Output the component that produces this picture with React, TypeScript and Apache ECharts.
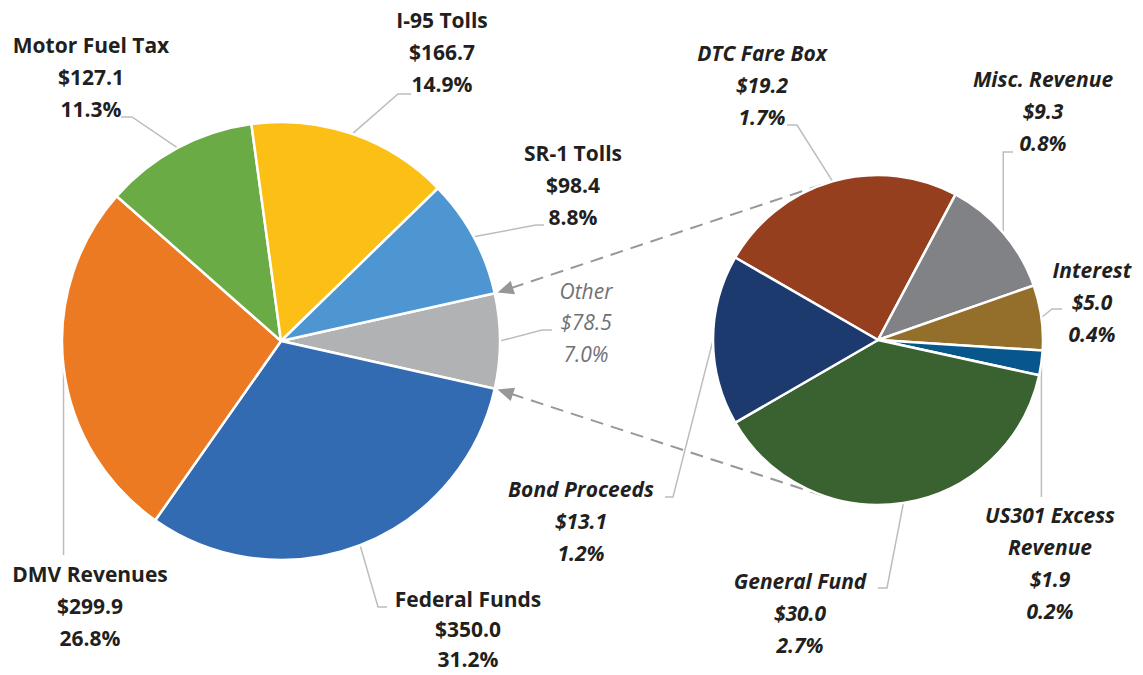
import React, { useEffect, useRef } from "react";
import * as echarts from "echarts";

// ---------- data ----------
const mainNames = ["Other", "Federal Funds", "DMV Revenues", "Motor Fuel Tax", "I-95 Tolls", "SR-1 Tolls"];
const mainValues = [78.5, 350.0, 299.9, 127.1, 166.7, 98.4];
const mainColors = ["#B1B2B4", "#336BB3", "#EC7A22", "#6AAB45", "#FBBF15", "#4E96D2"];

const otherNames = ["DTC Fare Box", "Misc. Revenue", "Interest", "US301 Excess\nRevenue", "General Fund", "Bond Proceeds"];
const otherValues = [19.2, 9.3, 5.0, 1.9, 30.0, 13.1];
const otherColors = ["#963F1F", "#808285", "#936F2B", "#07568C", "#3A6130", "#1D3A6E"];

// ---------- layout ----------
const W = 1143;
const H = 675;
const LEFT = { cx: 281, cy: 341, r: 219 };
const RIGHT = { cx: 878, cy: 340, r: 165 };
const RIGHT_START = 150;

type LabelSpec = { x: number; y: number; elbow?: number[]; end: number[]; vertical?: boolean; tight?: boolean };
const LABELS: Record<string, LabelSpec> = {
  "Motor Fuel Tax": { x: 91, y: 29, elbow: [132, 117], end: [121, 117] },
  "I-95 Tolls": { x: 442, y: 4, elbow: [398, 94], end: [411, 94] },
  "SR-1 Tolls": { x: 573, y: 137, elbow: [536, 225], end: [544, 225] },
  Other: { x: 586, y: 275, elbow: [542, 330], end: [552, 330] },
  "Federal Funds": { x: 468, y: 584, elbow: [378, 607], end: [387, 607], tight: true },
  "DMV Revenues": { x: 90, y: 558, end: [0, 555], vertical: true },
  "DTC Fare Box": { x: 762, y: 37, elbow: [797, 125], end: [787, 125] },
  "Misc. Revenue": { x: 1043, y: 63, elbow: [0, 152], end: [1013, 152], vertical: true },
  Interest: { x: 1092, y: 254, elbow: [1052, 309], end: [1062, 309] },
  "US301 Excess\nRevenue": { x: 1050, y: 499, end: [0, 497], vertical: true },
  "General Fund": { x: 800, y: 565, elbow: [887, 588], end: [878, 588] },
  "Bond Proceeds": { x: 581, y: 473, elbow: [673, 497], end: [665, 497] },
};

const FONT = "'Open Sans', 'Noto Sans', sans-serif";
const TEXT = "#231F20";

const total = mainValues.reduce((a, b) => a + b, 0);
const otherIndex = mainNames.indexOf("Other");
const otherSweep = (mainValues[otherIndex] / total) * 360;
const LEFT_START = otherSweep / 2;

const rad = (d: number) => (d * Math.PI) / 180;
const pt = (c: { cx: number; cy: number }, ang: number, r: number) => [
  c.cx + r * Math.cos(rad(ang)),
  c.cy - r * Math.sin(rad(ang)),
];

function midAngle(values: number[], start: number, idx: number) {
  const sum = values.reduce((a, b) => a + b, 0);
  let acc = 0;
  for (let i = 0; i < idx; i++) acc += values[i];
  return start - ((acc + values[idx] / 2) / sum) * 360;
}

function makeRich(italic: boolean) {
  const base = {
    fontFamily: FONT,
    fontSize: 21,
    fontWeight: 700,
    color: TEXT,
    lineHeight: 32,
    fontStyle: italic ? "italic" : "normal",
  };
  return {
    n: { ...base },
    v: { ...base },
    t: { ...base, lineHeight: 30 },
    o: { ...base, fontSize: 21, fontWeight: 400, fontStyle: "italic", color: "#707174", lineHeight: 31.5 },
  };
}

function formatLabel(name: string, value: number) {
  const pct = ((value / total) * 100).toFixed(1) + "%";
  const amt = "$" + value.toFixed(1);
  if (name === "Other") return `{o|${name}}\n{o|${amt}}\n{o|${pct}}`;
  const spec = LABELS[name];
  const k = spec && spec.tight ? "t" : "n";
  const kv = spec && spec.tight ? "t" : "v";
  const nameLines = name.split("\n").map((s) => `{${k}|${s}}`).join("\n");
  return `${nameLines}\n{${kv}|${amt}}\n{${kv}|${pct}}`;
}

function makeLayout(names: string[], values: number[], c: typeof LEFT, start: number) {
  return (params: any) => {
    const name = names[params.dataIndex];
    const spec = LABELS[name];
    if (!spec) return {};
    let p0: number[];
    if (params.labelLinePoints && params.labelLinePoints[0]) p0 = params.labelLinePoints[0];
    else p0 = pt(c, midAngle(values, start, params.dataIndex), c.r);
    let line: number[][];
    if (spec.vertical) {
      line = [p0, [p0[0], spec.end[1]]];
      if (spec.elbow) line = [p0, [p0[0], spec.elbow[1]], spec.end];
    } else {
      line = [p0, spec.elbow as number[], spec.end];
    }
    return { x: spec.x, y: spec.y, align: "center", verticalAlign: "top", labelLinePoints: line };
  };
}

function tangentPoint(P: number[], c: typeof RIGHT, upper: boolean) {
  const dx = P[0] - c.cx;
  const dy = -(P[1] - c.cy);
  const d = Math.sqrt(dx * dx + dy * dy);
  const phi = (Math.atan2(dy, dx) * 180) / Math.PI;
  const alpha = (Math.acos(c.r / d) * 180) / Math.PI;
  return pt(c, upper ? phi - alpha : phi + alpha, c.r);
}

function connector(ang: number, upper: boolean) {
  const tip = pt(LEFT, ang, LEFT.r + 3);
  const T = tangentPoint(tip, RIGHT, upper);
  const ux = T[0] - tip[0];
  const uy = T[1] - tip[1];
  const len = Math.sqrt(ux * ux + uy * uy);
  const u = [ux / len, uy / len];
  const n = [-u[1], u[0]];
  const aL = 16;
  const aW = 7;
  const B = [tip[0] + u[0] * aL, tip[1] + u[1] * aL];
  return [
    {
      type: "line",
      z: 1,
      silent: true,
      shape: { x1: B[0] - u[0] * 2, y1: B[1] - u[1] * 2, x2: T[0], y2: T[1] },
      style: { stroke: "#979797", lineWidth: 2, lineDash: [13, 8] },
    },
    {
      type: "polygon",
      z: 1,
      silent: true,
      shape: {
        points: [tip, [B[0] + n[0] * aW, B[1] + n[1] * aW], [B[0] - n[0] * aW, B[1] - n[1] * aW]],
      },
      style: { fill: "#979797" },
    },
  ];
}

export default function App() {
  const ref = useRef<HTMLDivElement>(null);
  useEffect(() => {
    if (!ref.current) return;
    document.body.style.margin = "0";
    const chart = echarts.init(ref.current, undefined, { renderer: "svg" });
    const labelLine = { show: true, length: 10, length2: 10, lineStyle: { color: "#BDBDBD", width: 1.5 } };
    const option: any = {
      animation: false,
      backgroundColor: "#ffffff",
      graphic: [...connector(LEFT_START, true), ...connector(LEFT_START - otherSweep, false)],
      series: [
        {
          type: "pie",
          center: [LEFT.cx, LEFT.cy],
          radius: LEFT.r,
          startAngle: LEFT_START,
          clockwise: true,
          avoidLabelOverlap: false,
          minShowLabelAngle: 0,
          silent: true,
          z: 2,
          itemStyle: { borderColor: "#ffffff", borderWidth: 2.5 },
          label: {
            show: true,
            position: "outside",
            formatter: (p: any) => formatLabel(p.name, p.value),
            rich: makeRich(false),
          },
          labelLine,
          labelLayout: makeLayout(mainNames, mainValues, LEFT, LEFT_START),
          emphasis: { disabled: true },
          data: mainNames.map((n, i) => ({ name: n, value: mainValues[i], itemStyle: { color: mainColors[i] } })),
        },
        {
          type: "pie",
          center: [RIGHT.cx, RIGHT.cy],
          radius: RIGHT.r,
          startAngle: RIGHT_START,
          clockwise: true,
          avoidLabelOverlap: false,
          minShowLabelAngle: 0,
          silent: true,
          z: 2,
          itemStyle: { borderColor: "#ffffff", borderWidth: 2.5 },
          label: {
            show: true,
            position: "outside",
            formatter: (p: any) => formatLabel(p.name, p.value),
            rich: makeRich(true),
          },
          labelLine,
          labelLayout: makeLayout(otherNames, otherValues, RIGHT, RIGHT_START),
          emphasis: { disabled: true },
          data: otherNames.map((n, i) => ({ name: n, value: otherValues[i], itemStyle: { color: otherColors[i] } })),
        },
      ],
    };
    chart.setOption(option);
    return () => chart.dispose();
  }, []);
  return (
    <div
      ref={ref}
      style={{ position: "fixed", left: 0, top: 0, width: W, height: H, background: "#fff" }}
    />
  );
}
